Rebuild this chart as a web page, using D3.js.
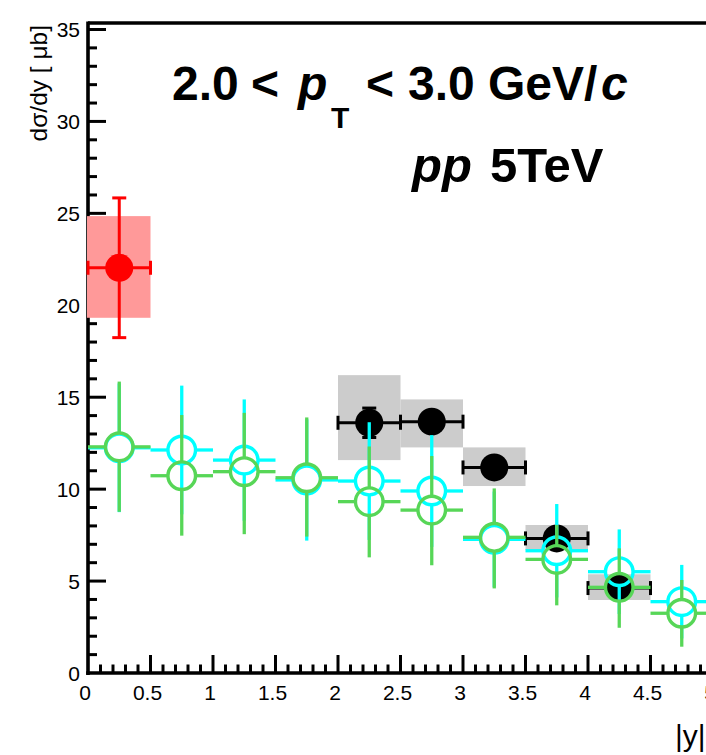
<!DOCTYPE html>
<html>
<head>
<meta charset="utf-8">
<script src="https://cdn.jsdelivr.net/npm/d3@7"></script>
<style>
  html, body { margin: 0; padding: 0; background: #fff; }
  svg { display: block; font-family: "Liberation Sans", Arial, Helvetica, sans-serif; }
</style>
</head>
<body>
<svg id="chart" width="706" height="755"></svg>
<script>
// Rapidity bins (half width 0.25)
const binHalfWidth = 0.25;

// Forward-rapidity measurement (red)
const redX = [0.25];
const redY = [22.04];
const redStat = [3.8];
const redSysUp = [2.81];
const redSysDn = [2.72];

// Measurement (black, grey systematic boxes)
const blackX = [2.25, 2.75, 3.25, 3.75, 4.25];
const blackY = [13.61, 13.67, 11.18, 7.32, 4.62];
const blackStat = [0.8, 0.5, 0.45, 0.35, 0.3];
const blackSysUp = [2.59, 1.21, 1.09, 0.73, 0.75];
const blackSysDn = [2.03, 1.40, 1.01, 0.63, 0.65];

// Model curves (open circles)
const modelX = [0.25, 0.75, 1.25, 1.75, 2.25, 2.75, 3.25, 3.75, 4.25, 4.75];
const cyanY = [12.25, 12.13, 11.58, 10.5, 10.44, 9.9, 7.27, 6.65, 5.51, 3.88];
const cyanErr = [3.5, 3.5, 3.3, 3.3, 3.2, 3.04, 2.6, 2.54, 2.3, 2.0];
const greenY = [12.3, 10.73, 10.95, 10.62, 9.32, 8.86, 7.38, 6.18, 4.66, 3.25];
const greenErrUp = [3.55, 3.3, 3.2, 3.28, 3.0, 2.94, 2.66, 1.87, 2.12, 1.81];
const greenErrDn = [3.53, 3.26, 3.4, 3.2, 3.03, 3.0, 2.78, 2.5, 2.2, 1.82];

// Axis ticks
const yMajorTicks = [0, 5, 10, 15, 20, 25, 30, 35];
const xMajorTicks = [0, 0.5, 1, 1.5, 2, 2.5, 3, 3.5, 4, 4.5, 5];
const xTickLabels = ["0", "0.5", "1", "1.5", "2", "2.5", "3", "3.5", "4", "4.5", "5"];

const svg = d3.select("#chart");

const x = d3.scaleLinear().domain([0, 5.5]).range([88, 88 + 5.5 * 125]);
const y = d3.scaleLinear().domain([0, 35]).range([673, 29.5]);
const yTop = 23;

const RED = "#ff0000", RED_BOX = "#ff9999";
const GREY_BOX = "#cccccc";
const CYAN = "#00ffff", GREEN = "#57d657";

// ---------- axes / frame ----------
const axisG = svg.append("g");
axisG.append("line").attr("x1", x(0)).attr("x2", 706).attr("y1", yTop).attr("y2", yTop)
  .attr("stroke", "#000").attr("stroke-width", 3.3);
axisG.append("line").attr("x1", x(0)).attr("x2", x(0)).attr("y1", yTop - 1.6).attr("y2", y(0) + 2)
  .attr("stroke", "#000").attr("stroke-width", 3.6);
axisG.append("line").attr("x1", x(0) - 1.8).attr("x2", 706).attr("y1", y(0)).attr("y2", y(0))
  .attr("stroke", "#000").attr("stroke-width", 3.6);

// y ticks (inward), major every 5, minor every 1
d3.range(1, 36, 1).forEach(v => {
  const major = v % 5 === 0;
  axisG.append("line")
    .attr("x1", x(0)).attr("x2", x(0) + (major ? 18 : 9))
    .attr("y1", y(v)).attr("y2", y(v))
    .attr("stroke", "#000").attr("stroke-width", 3);
});
// x ticks (inward), major every 0.5, minor every 0.1
d3.range(1, 56, 1).forEach(i => {
  const v = i / 10;
  const major = i % 5 === 0;
  axisG.append("line")
    .attr("x1", x(v)).attr("x2", x(v))
    .attr("y1", y(0)).attr("y2", y(0) - (major ? 18 : 8.5))
    .attr("stroke", "#000").attr("stroke-width", 3);
});

// tick labels
svg.append("g").selectAll("text").data(yMajorTicks).join("text")
  .attr("x", 80).attr("y", d => y(d)).attr("dy", "0.36em")
  .attr("text-anchor", "end").attr("font-size", 21).text(d => d);
svg.append("g").selectAll("text").data(xMajorTicks).join("text")
  .attr("x", d => x(d) - 3).attr("y", 700)
  .attr("text-anchor", "middle").attr("font-size", 21).text((d, i) => xTickLabels[i]);

// axis titles
svg.append("text")
  .attr("transform", "translate(47,25) rotate(-90)")
  .attr("text-anchor", "end").attr("font-size", 24.5)
  .text("dσ/dy [ μb]");
svg.append("text").attr("x", 675).attr("y", 746).attr("font-size", 30).text("|y|");

// ---------- data ----------
const plot = svg.append("g");

function hErr(g, cx, cy, color, caps, width) {
  g.append("line").attr("x1", x(cx - binHalfWidth)).attr("x2", x(cx + binHalfWidth))
    .attr("y1", y(cy)).attr("y2", y(cy)).attr("stroke", color).attr("stroke-width", width);
  if (caps) {
    [cx - binHalfWidth, cx + binHalfWidth].forEach(e => {
      g.append("line").attr("x1", x(e)).attr("x2", x(e))
        .attr("y1", y(cy) - 7).attr("y2", y(cy) + 7)
        .attr("stroke", color).attr("stroke-width", width);
    });
  }
}
function vErr(g, cx, lo, hi, color, caps, width) {
  g.append("line").attr("x1", x(cx)).attr("x2", x(cx))
    .attr("y1", y(hi)).attr("y2", y(lo)).attr("stroke", color).attr("stroke-width", width);
  if (caps) {
    [lo, hi].forEach(e => {
      g.append("line").attr("x1", x(cx) - 7).attr("x2", x(cx) + 7)
        .attr("y1", y(e)).attr("y2", y(e))
        .attr("stroke", color).attr("stroke-width", width);
    });
  }
}

// red point with systematic box
redX.forEach((cx, i) => {
  plot.append("rect")
    .attr("x", x(cx - binHalfWidth) - 1).attr("width", x(cx + binHalfWidth) - x(cx - binHalfWidth) + 1)
    .attr("y", y(redY[i] + redSysUp[i])).attr("height", y(redY[i] - redSysDn[i]) - y(redY[i] + redSysUp[i]))
    .attr("fill", RED_BOX);
  vErr(plot, cx, redY[i] - redStat[i], redY[i] + redStat[i], RED, true, 3);
  hErr(plot, cx, redY[i], RED, true, 3);
  plot.append("circle").attr("cx", x(cx)).attr("cy", y(redY[i])).attr("r", 14).attr("fill", RED);
});

// grey systematic boxes
blackX.forEach((cx, i) => {
  plot.append("rect")
    .attr("x", x(cx - binHalfWidth)).attr("width", x(cx + binHalfWidth) - x(cx - binHalfWidth))
    .attr("y", y(blackY[i] + blackSysUp[i]))
    .attr("height", y(blackY[i] - blackSysDn[i]) - y(blackY[i] + blackSysUp[i]))
    .attr("fill", GREY_BOX);
});
// black points
blackX.forEach((cx, i) => {
  vErr(plot, cx, blackY[i] - blackStat[i], blackY[i] + blackStat[i], "#000", true, 3);
  hErr(plot, cx, blackY[i], "#000", true, 3);
  plot.append("circle").attr("cx", x(cx)).attr("cy", y(blackY[i])).attr("r", 14).attr("fill", "#000");
});

// open-circle series
function openSeries(yv, up, dn, color) {
  const g = plot.append("g");
  modelX.forEach((cx, i) => {
    const cyPix = y(yv[i]);
    const r = 13.8;
    // bars stop at the circle edge
    g.append("line").attr("x1", x(cx)).attr("x2", x(cx))
      .attr("y1", y(yv[i] + up[i])).attr("y2", cyPix - r)
      .attr("stroke", color).attr("stroke-width", 3.3);
    g.append("line").attr("x1", x(cx)).attr("x2", x(cx))
      .attr("y1", cyPix + r).attr("y2", y(yv[i] - dn[i]))
      .attr("stroke", color).attr("stroke-width", 3.3);
    g.append("line").attr("x1", x(cx - binHalfWidth)).attr("x2", x(cx) - r)
      .attr("y1", cyPix).attr("y2", cyPix).attr("stroke", color).attr("stroke-width", 3.3);
    g.append("line").attr("x1", x(cx) + r).attr("x2", x(cx + binHalfWidth))
      .attr("y1", cyPix).attr("y2", cyPix).attr("stroke", color).attr("stroke-width", 3.3);
    g.append("circle").attr("cx", x(cx)).attr("cy", cyPix).attr("r", r)
      .attr("fill", "none").attr("stroke", color).attr("stroke-width", 3.4);
  });
}
openSeries(cyanY, cyanErr, cyanErr, CYAN);
openSeries(greenY, greenErrUp, greenErrDn, GREEN);

// ---------- labels ----------
const t1 = svg.append("text").attr("font-size", 48).attr("font-weight", "bold");
t1.append("tspan").attr("x", 172).attr("y", 100).text("2.0");
t1.append("tspan").attr("x", 251).attr("y", 100).text("<");
t1.append("tspan").attr("x", 298).attr("y", 100).attr("font-style", "italic").text("p");
t1.append("tspan").attr("x", 331).attr("y", 128).attr("font-size", 30).text("T");
t1.append("tspan").attr("x", 366).attr("y", 100).text("<");
t1.append("tspan").attr("x", 408).attr("y", 100).text("3.0");
t1.append("tspan").attr("x", 488).attr("y", 100).text("GeV/");
t1.append("tspan").attr("x", 601).attr("y", 100).attr("font-style", "italic").text("c");

const t2 = svg.append("text").attr("font-size", 49).attr("font-weight", "bold");
t2.append("tspan").attr("x", 412).attr("y", 182).attr("font-style", "italic").text("pp");
t2.append("tspan").attr("x", 490).attr("y", 182).text("5TeV");
</script>
</body>
</html>
